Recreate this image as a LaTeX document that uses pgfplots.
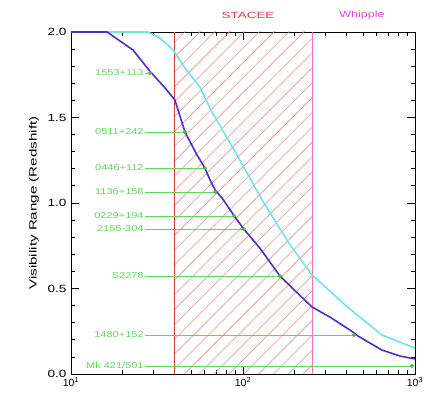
\documentclass[border=0pt]{standalone}
\usepackage{pgfplots}
\pgfplotsset{compat=1.18}
\usepackage{pgfplotstable}
\usepackage{fontspec}
\setmainfont{Liberation Sans}
\usetikzlibrary{patterns.meta}

\definecolor{curveblue}{RGB}{72,48,200}
\definecolor{curvecyan}{RGB}{110,230,230}
\definecolor{srcgreen}{RGB}{95,215,95}
\definecolor{dotgreen}{RGB}{70,185,70}
\definecolor{stacee}{RGB}{215,60,60}
\definecolor{whipple}{RGB}{225,70,225}
\definecolor{hatch}{RGB}{238,140,140}
\definecolor{whipline}{RGB}{250,110,190}

\newcommand{\wide}[2][1.3]{\scalebox{#1}[1]{#2}}
\tikzset{srclab/.style={pos=0, anchor=east, inner sep=1pt, text=srcgreen,
  font=\fontsize{8.5}{9}\selectfont}}

% lower visibility curve
\pgfplotstableread{
x      z
10     2.000
16.2   2.000
22.9   1.895
28.8   1.770
35.2   1.673
40.2   1.602
46.0   1.415
54.0   1.281
60.0   1.205
64.3   1.135
69.0   1.075
76.0   1.025
89.0   0.924
101    0.848
125.6  0.735
164    0.573
214    0.460
252    0.392
320    0.333
419    0.257
466    0.222
643    0.140
818    0.105
1000   0.088
}\lowcurve

% upper visibility curve
\pgfplotstableread{
x      z
10     2.000
28.0   2.000
32.9   1.965
39.2   1.895
46.0   1.789
56.2   1.678
66.0   1.532
92.3   1.281
129    1.018
188    0.754
252    0.579
392    0.404
643    0.228
961    0.158
1000   0.150
}\highcurve

% sources: line end on the curve and redshift
\pgfplotstableread{
xe    z
28.8  1.760
46.0  1.415
60.0  1.205
69.0  1.065
89.0  0.924
101   0.848
164   0.573
442   0.228
960   0.047
}\sources

\begin{document}
\begin{tikzpicture}
\begin{axis}[
  name=ax,
  width=344bp, height=342bp, scale only axis,
  xmode=log, xmin=10, xmax=1000, ymin=0, ymax=2,
  xtick={10,100,1000},
  xticklabels={10\textsuperscript{1},10\textsuperscript{2},10\textsuperscript{3}},
  ytick={0,0.5,1,1.5,2},
  yticklabels={\wide{0.0},\wide{0.5},\wide{1.0},\wide{1.5},\wide{2.0}},
  minor y tick num=4,
  tick align=inside,
  major tick length=8bp, minor tick length=4bp,
  tick style={black, line width=0.8pt},
  axis line style={black, line width=0.9pt},
  ticklabel style={font=\fontsize{10.5}{12}\selectfont},
  yticklabel style={xshift=-1bp},
  ylabel={\wide[1.45]{Visibility Range (Redshift)}},
  ylabel style={font=\fontsize{10.5}{12}\selectfont, yshift=2bp},
  clip=false,
]
% STACEE energy range, hatched
\addplot[draw=none, pattern={Lines[angle=45, distance=10.5bp, line width=0.6pt]}, pattern color=hatch]
  coordinates {(40,0) (40,2) (252,2) (252,0)} -- cycle;
\addplot[stacee, line width=0.9pt] coordinates {(40,0) (40,2)};
\addplot[whipline, line width=0.9pt] coordinates {(252,0) (252,2)};

% horizontal source lines
\addplot[srcgreen, line width=0.6pt] coordinates {(26.9,1.760) (28.8,1.760)} node[srclab] {\wide{1553+113}};
\addplot[srcgreen, line width=0.6pt] coordinates {(26.9,1.415) (46.0,1.415)} node[srclab] {\wide{0511+242}};
\addplot[srcgreen, line width=0.6pt] coordinates {(26.9,1.205) (60.0,1.205)} node[srclab] {\wide{0446+112}};
\addplot[srcgreen, line width=0.6pt] coordinates {(26.9,1.065) (69.0,1.065)} node[srclab] {\wide{1136+158}};
\addplot[srcgreen, line width=0.6pt] coordinates {(26.9,0.924) (89.0,0.924)} node[srclab] {\wide{0229+194}};
\addplot[srcgreen, line width=0.6pt] coordinates {(26.9,0.848) (101,0.848)} node[srclab] {\wide{2155-304}};
\addplot[srcgreen, line width=0.6pt] coordinates {(26.9,0.573) (164,0.573)} node[srclab] {\wide{S2278}};
\addplot[srcgreen, line width=0.6pt] coordinates {(26.9,0.228) (442,0.228)} node[srclab] {\wide{1480+152}};
\addplot[srcgreen, line width=0.6pt] coordinates {(26.9,0.047) (960,0.047)} node[srclab] {\wide{Mk 421/501}};

\addplot[curvecyan, line width=1.6pt] table[x=x, y=z] {\highcurve};
\addplot[curveblue, line width=1.6pt] table[x=x, y=z] {\lowcurve};
\addplot[only marks, mark=*, mark size=1.8pt,
  mark options={draw=dotgreen, fill=dotgreen}]
  table[x=xe, y=z] {\sources};

\node[text=stacee, font=\fontsize{9}{10}\selectfont] at (axis cs:107,2) [yshift=17bp] {\wide[1.5]{STACEE}};
\node[text=whipple, font=\fontsize{9}{10}\selectfont] at (axis cs:492,2) [yshift=17bp] {\wide[1.4]{Whipple}};

\coordinate (sw) at (rel axis cs:0,0);
\coordinate (ne) at (rel axis cs:1,1);
\end{axis}
\pgfresetboundingbox
\path ([xshift=-71bp, yshift=-21bp]sw) rectangle ([xshift=9bp, yshift=32bp]ne);
\end{tikzpicture}
\end{document}
